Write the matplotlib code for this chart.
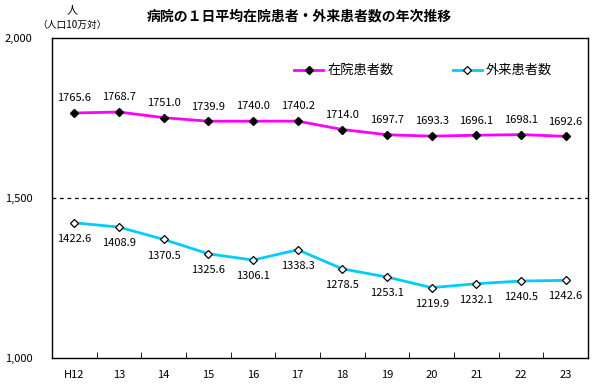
import numpy as np
import matplotlib.pyplot as plt

plt.rcParams['font.family'] = ['Noto Sans CJK JP', 'DejaVu Sans']

years = ["H12", "13", "14", "15", "16", "17", "18", "19", "20", "21", "22", "23"]
inpatient = [1765.6, 1768.7, 1751.0, 1739.9, 1740.0, 1740.2, 1714.0, 1697.7, 1693.3, 1696.1, 1698.1, 1692.6]
outpatient = [1422.6, 1408.9, 1370.5, 1325.6, 1306.1, 1338.3, 1278.5, 1253.1, 1219.9, 1232.1, 1240.5, 1242.6]

fig = plt.figure(figsize=(5.98, 3.90), dpi=100)
ax = fig.add_axes([52 / 598, 1 - 358 / 390, (588 - 52) / 598, 320 / 390])

x = np.arange(len(years))
ax.plot(x, inpatient, color="#FF00FF", lw=2, marker="D", ms=4.5,
        mfc="black", mec="black", label="在院患者数")
ax.plot(x, outpatient, color="#00CCFF", lw=2, marker="D", ms=4.5,
        mfc="white", mec="black", mew=0.9, label="外来患者数")

for i, v in enumerate(inpatient):
    ax.annotate(f"{v:.1f}", (i, v), xytext=(0, 7), textcoords="offset points",
                ha="center", va="bottom", fontsize=8)
for i, v in enumerate(outpatient):
    ax.annotate(f"{v:.1f}", (i, v), xytext=(0, -8), textcoords="offset points",
                ha="center", va="top", fontsize=8)

ax.set_xlim(-0.5, len(years) - 0.5)
ax.set_ylim(1000, 2000)
ax.set_yticks([1000, 1500, 2000])
ax.set_yticklabels(["1,000", "1,500", "2,000"], fontsize=8)
ax.tick_params(axis="y", length=0, pad=14)
ax.axhline(1500, color="black", lw=0.9, ls=(0, (3, 3)))

ax.set_xticks(x)
ax.set_xticklabels(years, fontsize=8)
ax.tick_params(axis="x", length=0, pad=9)
ax.set_xticks(np.arange(0.5, len(years) - 1, 1), minor=True)
ax.tick_params(axis="x", which="minor", direction="in", length=4)

for s in ax.spines.values():
    s.set_linewidth(1)

ax.legend(loc="upper right", bbox_to_anchor=(0.955, 0.955), ncol=2, frameon=False,
          fontsize=9.5, handlelength=2.2, columnspacing=4.5, handletextpad=0.3)

fig.text(0.5, 1 - 16 / 390, "病院の１日平均在院患者・外来患者数の年次推移",
         ha="center", va="center", fontsize=10, fontweight="bold")
fig.text(72 / 598, 1 - 10 / 390, "人", ha="center", va="center", fontsize=8)
fig.text(72 / 598, 1 - 25 / 390, "（人口10万対）", ha="center", va="center", fontsize=7)

fig.savefig("out.png", dpi=100)
